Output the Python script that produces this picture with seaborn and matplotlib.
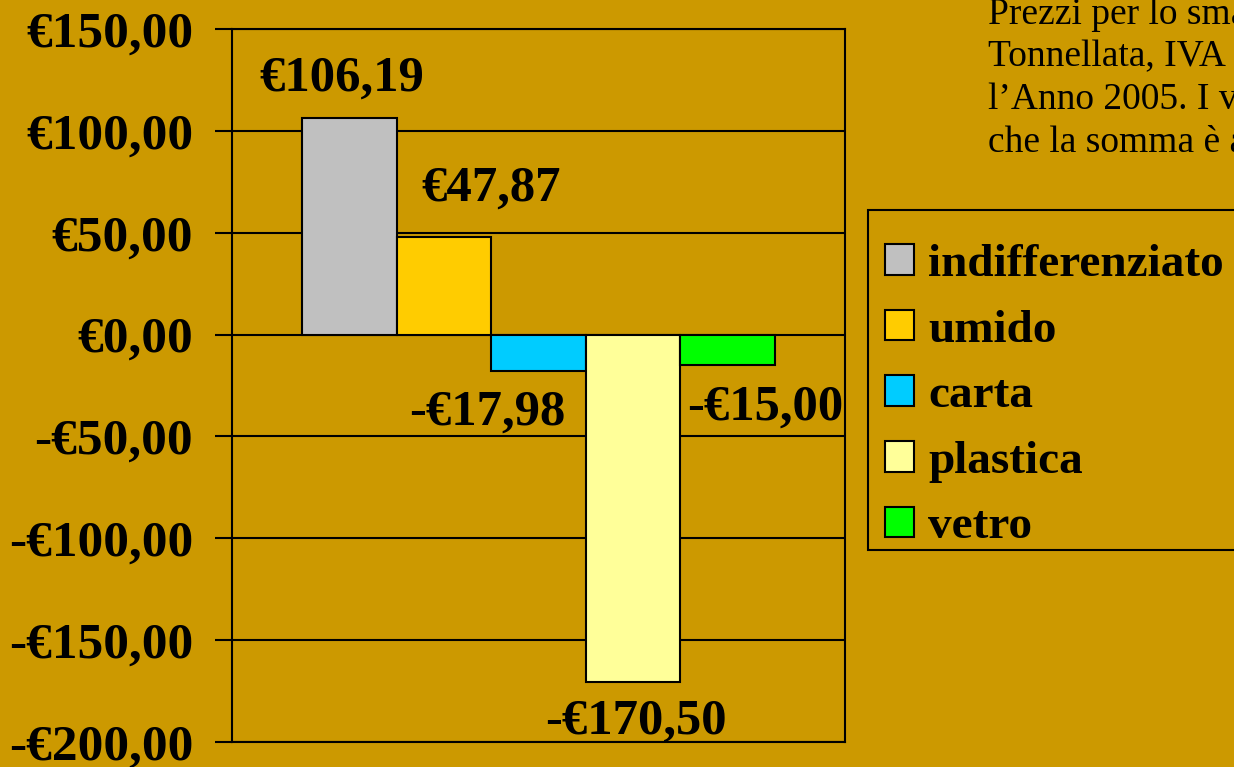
import matplotlib
matplotlib.use("Agg")
import matplotlib.pyplot as plt
import seaborn as sns
import pandas as pd
from matplotlib.patches import Patch, Rectangle

categories = ["indifferenziato", "umido", "carta", "plastica", "vetro"]
values = [106.19, 47.87, -17.98, -170.50, -15.00]
labels = ["€106,19", "€47,87", "-€17,98", "-€170,50", "-€15,00"]
colors = ["#C0C0C0", "#FFCC00", "#00CCFF", "#FFFF99", "#00FF00"]
yticks = [150, 100, 50, 0, -50, -100, -150, -200]
ytick_labels = ["€150,00", "€100,00", "€50,00", "€0,00", "-€50,00", "-€100,00", "-€150,00", "-€200,00"]
note = ("Prezzi per lo smaltimento\n"
        "Tonnellata, IVA esclusa\n"
        "l’Anno 2005. I valori\n"
        "che la somma è a favore")

BG = "#CC9900"
sns.set_theme(style="white")
plt.rcParams["font.family"] = ["Liberation Serif", "DejaVu Serif"]
plt.rcParams["text.color"] = "black"
plt.rcParams["ytick.color"] = "black"
plt.rcParams["xtick.color"] = "black"
plt.rcParams["axes.labelcolor"] = "black"

fig = plt.figure(figsize=(12.34, 7.67), dpi=100)
fig.patch.set_facecolor(BG)
ax = fig.add_axes([232/1234, 1-742/767, (845-232)/1234, (742-29)/767])
ax.set_facecolor(BG)

df = pd.DataFrame({"g": ["A"]*len(categories), "cat": categories, "val": values})
sns.barplot(data=df, x="g", y="val", hue="cat", hue_order=categories,
            palette=colors, width=0.77, dodge=True, saturation=1,
            edgecolor="black", linewidth=1.5, ax=ax, legend=False, errorbar=None)

ax.set_ylim(-200, 150)
ax.set_xlim(-0.5, 0.5)
ax.set_yticks(yticks)
ax.set_yticklabels(ytick_labels, fontsize=37, fontweight="bold", color="black")
ax.set_xticks([])
ax.set_xlabel("")
ax.set_ylabel("")
ax.tick_params(axis="y", length=12, width=1.5, color="black", labelcolor="black", pad=16, left=True)
for y in yticks:
    ax.axhline(y, color="black", lw=1.5, zorder=0)
for s in ax.spines.values():
    s.set_color("black")
    s.set_linewidth(1.5)
    s.set_visible(True)

# data labels
offsets = [(-8, 40), (47, 48), (-51, -41), (3, -40), (38, -42)]
bars = ax.patches[:len(values)]
for bar, lab, val, (dx, dy) in zip(bars, labels, values, offsets):
    cx = bar.get_x() + bar.get_width()/2
    ax.annotate(lab, xy=(cx, val), xytext=(dx, dy), textcoords="offset pixels",
                ha="center", va="center", fontsize=36.5, fontweight="bold", color="black")

# legend frame (extends past the right edge, as in the original slide)
fig.patches.append(Rectangle((868/1234, 1-550/767), 400/1234, 340/767,
                             transform=fig.transFigure, facecolor=BG,
                             edgecolor="black", linewidth=1.5, zorder=0))
handles = [Patch(facecolor=c, edgecolor="black", linewidth=1.5) for c in colors]
leg = fig.legend(handles, categories, loc="upper left",
                 bbox_to_anchor=(885/1234, 1-244/767), frameon=False,
                 prop={"family": "Liberation Serif", "weight": "bold", "size": 34},
                 handlelength=0.62, handleheight=0.62, handletextpad=0.3,
                 labelspacing=0.5, borderpad=0, borderaxespad=0)
for t in leg.get_texts():
    t.set_color("black")

fig.text(988/1234, 1+3/767, note, ha="left", va="top", fontsize=27,
         linespacing=1.32, color="black")

fig.savefig("out.png", dpi=100, facecolor=BG)
